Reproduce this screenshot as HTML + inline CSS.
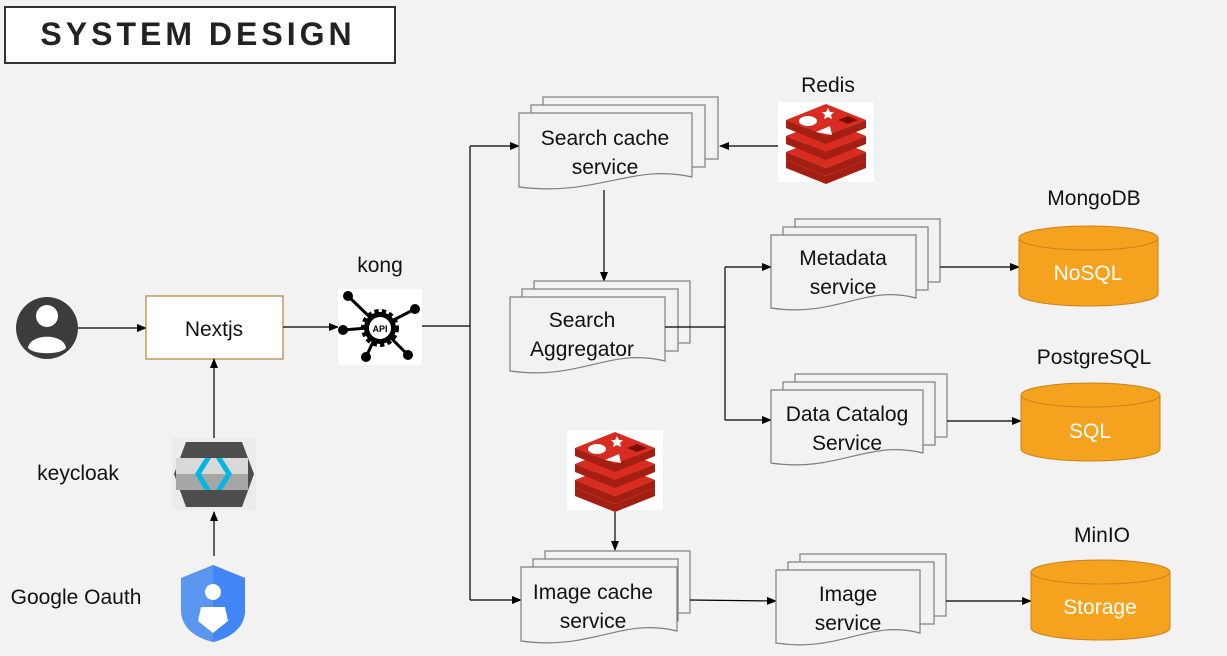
<!DOCTYPE html>
<html><head><meta charset="utf-8"><style>
html,body{margin:0;padding:0;background:#f2f2f2;}
svg{display:block;font-family:"Gill Sans","Liberation Sans",sans-serif;}
.doc{fill:#f2f2f2;stroke:#7f7f7f;stroke-width:1.2}
.t{font-size:21px;fill:#111;text-anchor:middle}
.ln{stroke:#000;stroke-width:1.2;fill:none}
</style></head><body>
<svg width="1227" height="656" viewBox="0 0 1227 656">
<defs>
<marker id="a" markerWidth="10" markerHeight="8" refX="9" refY="4" orient="auto" markerUnits="userSpaceOnUse"><path d="M0,0 L10,4 L0,8 z" fill="#000"/></marker>
<g id="redis">
<rect x="0" y="0" width="96" height="80" fill="#fff"/>
<path d="M8,58 L48,74 L88,58 L88,66 L48,82 L8,66 z" fill="#a41e11"/>
<path d="M8,50 L48,34 L88,50 L48,66 z" fill="#d82c20"/>
<path d="M8,50 L48,66 L88,50 L88,58 L48,74 L8,58 z" fill="#a41e11"/>
<path d="M8,34 L48,18 L88,34 L48,50 z" fill="#d82c20"/>
<path d="M8,34 L48,50 L88,34 L88,42 L48,58 L8,42 z" fill="#a41e11"/>
<path d="M8,18 L48,2 L88,18 L48,34 z" fill="#d82c20"/>
<path d="M8,18 L48,34 L88,18 L88,26 L48,42 L8,26 z" fill="#a41e11"/>
<ellipse cx="30" cy="19" rx="9" ry="5" fill="#fff"/>
<path d="M50,6 l2,4 4,0 -3,3 1,4 -4,-2 -4,2 1,-4 -3,-3 4,0z" fill="#fff"/>
<path d="M60,18 l10,-4 10,4 -10,4z" fill="#7a0c00"/>
<path d="M38,30 l14,-6 2,9z" fill="#fff"/>
</g>
</defs>

<!-- title -->
<rect x="5" y="7" width="390" height="56" fill="#fff" stroke="#333" stroke-width="2"/>
<text x="198" y="45" font-size="32" font-weight="bold" text-anchor="middle" letter-spacing="4" fill="#222">SYSTEM DESIGN</text>

<!-- user -->
<circle cx="47" cy="328" r="31" fill="#3c3c3c"/>
<circle cx="47" cy="316" r="11" fill="#fff"/>
<path d="M28,348 C30,333 64,333 66,348 C60,355 34,355 28,348z" fill="#fff"/>
<line class="ln" x1="78" y1="328" x2="146" y2="328" marker-end="url(#a)"/>

<!-- Nextjs -->
<rect x="146" y="296" width="137" height="63" fill="#fff" stroke="#b5823a" stroke-width="1.2"/>
<text class="t" x="214" y="336">Nextjs</text>
<line class="ln" x1="283" y1="327" x2="338" y2="327" marker-end="url(#a)"/>

<!-- kong -->
<text class="t" x="380" y="272">kong</text>
<rect x="338" y="289" width="84" height="76" fill="#fff"/>
<g stroke="#000" stroke-width="3">
<line x1="348" y1="296" x2="380" y2="327"/><line x1="415" y1="309" x2="380" y2="327"/>
<line x1="343" y1="330" x2="380" y2="327"/><line x1="366" y1="357" x2="380" y2="327"/>
<line x1="408" y1="355" x2="380" y2="327"/>
</g>
<g fill="#000"><circle cx="348" cy="296" r="5"/><circle cx="415" cy="309" r="5"/><circle cx="343" cy="330" r="5"/><circle cx="366" cy="357" r="5"/><circle cx="408" cy="355" r="5"/></g>
<circle cx="380" cy="328" r="16" fill="#000" stroke="#000" stroke-width="6" stroke-dasharray="4 3"/>
<circle cx="380" cy="328" r="11" fill="#fff"/>
<text x="380" y="332" font-size="9" font-weight="bold" text-anchor="middle">API</text>

<!-- keycloak -->
<line class="ln" x1="214" y1="438" x2="214" y2="359" marker-end="url(#a)"/>
<text class="t" x="78" y="480">keycloak</text>
<rect x="172" y="438" width="84" height="72" fill="#ececec"/>
<path d="M186,442 L242,442 L254,474 L242,507 L186,507 L174,474z" fill="#4d4d4d"/>
<rect x="176" y="458" width="72" height="16" fill="#d9d9d9"/>
<rect x="176" y="474" width="72" height="16" fill="#a6a6a6"/>
<path d="M205,458 L195,474 L205,490 L211,490 L201,474 L211,458z" fill="#00b8e3"/>
<path d="M222,458 L232,474 L222,490 L216,490 L226,474 L216,458z" fill="#00b8e3"/>
<line class="ln" x1="214" y1="556" x2="214" y2="512" marker-end="url(#a)"/>

<!-- google -->
<text class="t" x="76" y="604">Google Oauth</text>
<path d="M213,565 L245,578 L245,610 C245,628 230,638 213,642 C196,638 181,628 181,610 L181,578z" fill="#5a95ee"/>
<path d="M213,565 L245,578 L245,610 C245,628 230,638 213,642z" fill="#4285f4"/>
<circle cx="213" cy="592" r="8" fill="#fff"/>
<path d="M198,621 L201,607 L225,607 L228,621 L213,633z" fill="#fff"/>

<!-- connectors from kong -->
<polyline class="ln" points="422,326 470,326"/>
<line class="ln" x1="470" y1="146" x2="470" y2="600"/>
<line class="ln" x1="470" y1="146" x2="519" y2="146" marker-end="url(#a)"/>
<line class="ln" x1="470" y1="600" x2="521" y2="600" marker-end="url(#a)"/>

<!-- Search cache stack -->
<rect class="doc" x="543" y="97" width="175" height="62"/>
<rect class="doc" x="531" y="105" width="174" height="62"/>
<path class="doc" d="M519,113 h173 v64 c-60,-14 -95,20 -173,10 z"/>
<text class="t" x="605" y="145">Search cache</text>
<text class="t" x="605" y="174">service</text>
<text class="t" x="828" y="92">Redis</text>
<use href="#redis" x="778" y="102"/>
<line class="ln" x1="778" y1="146" x2="720" y2="146" marker-end="url(#a)"/>
<line class="ln" x1="604" y1="190" x2="604" y2="281" marker-end="url(#a)"/>

<!-- Aggregator -->
<rect class="doc" x="534" y="281" width="156" height="62"/>
<rect class="doc" x="522" y="289" width="156" height="62"/>
<path class="doc" d="M510,297 h155 v64 c-55,-14 -85,20 -155,10 z"/>
<text class="t" x="582" y="327">Search</text>
<text class="t" x="582" y="356">Aggregator</text>
<line class="ln" x1="665" y1="327" x2="725" y2="327"/>
<line class="ln" x1="725" y1="267" x2="725" y2="420"/>
<line class="ln" x1="725" y1="267" x2="771" y2="267" marker-end="url(#a)"/>
<line class="ln" x1="725" y1="420" x2="771" y2="420" marker-end="url(#a)"/>

<!-- Metadata -->
<rect class="doc" x="795" y="219" width="145" height="63"/>
<rect class="doc" x="783" y="227" width="145" height="63"/>
<path class="doc" d="M771,235 h145 v63 c-50,-14 -80,20 -145,10 z"/>
<text class="t" x="843" y="265">Metadata</text>
<text class="t" x="843" y="294">service</text>
<line class="ln" x1="940" y1="267" x2="1019" y2="267" marker-end="url(#a)"/>

<!-- Data Catalog -->
<rect class="doc" x="795" y="374" width="152" height="63"/>
<rect class="doc" x="783" y="382" width="152" height="63"/>
<path class="doc" d="M771,390 h152 v63 c-55,-14 -85,20 -152,10 z"/>
<text class="t" x="847" y="421">Data Catalog</text>
<text class="t" x="847" y="450">Service</text>
<line class="ln" x1="947" y1="421" x2="1021" y2="421" marker-end="url(#a)"/>

<!-- Redis 2 -->
<use href="#redis" x="567" y="430"/>
<line class="ln" x1="615" y1="512" x2="615" y2="550" marker-end="url(#a)"/>

<!-- Image cache -->
<rect class="doc" x="545" y="551" width="145" height="62"/>
<rect class="doc" x="533" y="559" width="145" height="62"/>
<path class="doc" d="M521,567 h156 v64 c-55,-14 -85,20 -156,10 z"/>
<text class="t" x="593" y="599">Image cache</text>
<text class="t" x="593" y="628">service</text>
<line class="ln" x1="690" y1="600" x2="776" y2="601" marker-end="url(#a)"/>

<!-- Image service -->
<rect class="doc" x="800" y="554" width="146" height="62"/>
<rect class="doc" x="788" y="562" width="146" height="62"/>
<path class="doc" d="M776,570 h144 v63 c-50,-14 -80,20 -144,10 z"/>
<text class="t" x="848" y="601">Image</text>
<text class="t" x="848" y="630">service</text>
<line class="ln" x1="946" y1="601" x2="1031" y2="601" marker-end="url(#a)"/>

<!-- Cylinders -->
<g stroke="#c9831a" stroke-width="1">
<path d="M1019,238 v56 a69.5,12 0 0 0 139,0 v-56" fill="#f5a31e"/>
<ellipse cx="1088.5" cy="238" rx="69.5" ry="12" fill="#f5a31e"/>
<path d="M1021,395 v54 a69.5,12 0 0 0 139,0 v-54" fill="#f5a31e"/>
<ellipse cx="1090.5" cy="395" rx="69.5" ry="12" fill="#f5a31e"/>
<path d="M1031,572 v56 a69.5,12 0 0 0 139,0 v-56" fill="#f5a31e"/>
<ellipse cx="1100.5" cy="572" rx="69.5" ry="12" fill="#f5a31e"/>
</g>
<text class="t" x="1094" y="205">MongoDB</text>
<text class="t" x="1088" y="280" style="fill:#fff">NoSQL</text>
<text class="t" x="1094" y="364">PostgreSQL</text>
<text class="t" x="1090" y="438" style="fill:#fff">SQL</text>
<text class="t" x="1102" y="542">MinIO</text>
<text class="t" x="1100" y="614" style="fill:#fff">Storage</text>
</svg>
</body></html>
